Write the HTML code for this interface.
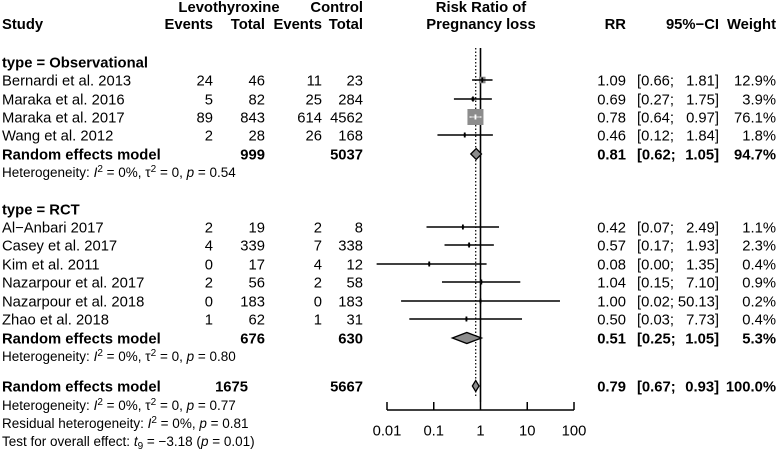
<!DOCTYPE html>
<html><head><meta charset="utf-8"><style>
html,body{margin:0;padding:0;background:#fff;}
svg{display:block;font-family:"Liberation Sans",Arial,sans-serif;}
.b{font-weight:bold}
.t{font-size:14.8px}
.s{font-size:13.5px}
</style></head><body>
<svg id="chart" width="778" height="454" viewBox="0 0 778 454" xmlns="http://www.w3.org/2000/svg">
<g class="b t">
<text x="2" y="29">Study</text>
<text x="229" y="12" text-anchor="middle">Levothyroxine</text>
<text x="213" y="29" text-anchor="end">Events</text>
<text x="265" y="29" text-anchor="end">Total</text>
<text x="363" y="12" text-anchor="end">Control</text>
<text x="322" y="29" text-anchor="end">Events</text>
<text x="363" y="29" text-anchor="end">Total</text>
<text x="481" y="12" text-anchor="middle">Risk Ratio of</text>
<text x="481" y="29" text-anchor="middle">Pregnancy loss</text>
<text x="626" y="29" text-anchor="end">RR</text>
<text x="719" y="29" text-anchor="end">95%−CI</text>
<text x="776" y="29" text-anchor="end">Weight</text>
</g>
<g id="rows"></g>
<g id="plot"></g>
</svg>
<script>
const studies = ["Bernardi et al. 2013","Maraka et al. 2016","Maraka et al. 2017","Wang et al. 2012","Al−Anbari 2017","Casey et al. 2017","Kim et al. 2011","Nazarpour et al. 2017","Nazarpour et al. 2018","Zhao et al. 2018"];
const levEvents = [24,5,89,2,2,4,0,2,0,1];
const levTotal = [46,82,843,28,19,339,17,56,183,62];
const ctrlEvents = [11,25,614,26,2,7,4,2,0,1];
const ctrlTotal = [23,284,4562,168,8,338,12,58,183,31];
const rr = [1.09,0.69,0.78,0.46,0.42,0.57,0.08,1.04,1.00,0.50];
const lower = [0.66,0.27,0.64,0.12,0.07,0.17,0.00,0.15,0.02,0.03];
const upper = [1.81,1.75,0.97,1.84,2.49,1.93,1.35,7.10,50.13,7.73];
const weights = [12.9,3.9,76.1,1.8,1.1,2.3,0.4,0.9,0.2,0.4];
const studyY = [80,99,117,135,227,245,264,282,301,319];
const pooledLabels = ["Random effects model","Random effects model","Random effects model"];
const pooledRR = [0.81,0.51,0.79];
const pooledLower = [0.62,0.25,0.67];
const pooledUpper = [1.05,1.05,0.93];
const pooledWeight = ["94.7%","5.3%","100.0%"];
const pooledLevTotal = [999,676,1675];
const pooledCtrlTotal = [5037,630,5667];
const pooledY = [154,338,386];
const ticks = [0.01,0.1,1,10,100];
const tickLabels = ["0.01","0.1","1","10","100"];

const NS="http://www.w3.org/2000/svg";
const rows=document.getElementById('rows'), plot=document.getElementById('plot');
const X0=387, X1=574;
function xs(v){ v=Math.max(v,0.006); return X0+(Math.log10(v)+2)/4*(X1-X0); }
function mk(tag,attrs,parent){const e=document.createElementNS(NS,tag);for(const k in attrs)e.setAttribute(k,attrs[k]);parent.appendChild(e);return e;}
function txt(x,y,s,anchor,cls,parent){const t=mk('text',{x:x,y:y+5.3,'text-anchor':anchor||'start','class':cls||'t'},parent);t.textContent=s;return t;}
function f2(v){return v.toFixed(2);}
function ci(lo,hi,y,cls,p){
  const a=txt(637,y,"["+f2(lo)+";",'start',cls,p);
  
  
  const b=txt(719,y,f2(hi)+"]",'end',cls,p);
  
  
}
let g=txt(2,62,"type = Observational",'start','b t',rows);


g=txt(2,209,"type = RCT",'start','b t',rows);



const yTop=48, yAxis=410;
let l=mk('line',{x1:xs(1),x2:xs(1),y1:yTop,y2:yAxis-8,stroke:'#000','stroke-width':1.6},plot);


l=mk('line',{x1:xs(pooledRR[2]),x2:xs(pooledRR[2]),y1:yTop,y2:yAxis-12,stroke:'#000','stroke-width':1.2,'stroke-dasharray':'1.5,2'},plot);



for(let i=0;i<studies.length;i++){
  const y=studyY[i];
  const r=mk('g',{},rows);
  
  
  txt(2,y,studies[i],'start','t',r);
  txt(213,y,String(levEvents[i]),'end','t',r);
  txt(265,y,String(levTotal[i]),'end','t',r);
  txt(322,y,String(ctrlEvents[i]),'end','t',r);
  txt(363,y,String(ctrlTotal[i]),'end','t',r);
  txt(626,y,f2(rr[i]),'end','t',r);
  ci(lower[i],upper[i],y,'t',r);
  txt(776,y,weights[i].toFixed(1)+"%",'end','t',r);
  const side=Math.max(2.5,16*Math.sqrt(weights[i]/76.1));
  const cx=xs(rr[i]);
  const sq=mk('rect',{x:cx-side/2,y:y-side/2,width:side,height:side,fill:'#8c8c8c'},plot);
  
  
  const ln=mk('line',{x1:xs(lower[i]),x2:xs(upper[i]),y1:y,y2:y,stroke:'#000','stroke-width':1.5},plot);
  
  
  if(side>8){
    const w=mk('line',{x1:cx-side/2+2,x2:cx+side/2-2,y1:y,y2:y,stroke:'#fff','stroke-width':1.2},plot);
    
    
  }
  const pt=mk('line',{x1:cx,x2:cx,y1:y-2.5,y2:y+2.5,stroke:side>8?'#fff':'#000','stroke-width':1.8},plot);
  
  
}
for(let i=0;i<pooledRR.length;i++){
  const y=pooledY[i];
  const r=mk('g',{},rows);
  
  
  txt(2,y,pooledLabels[i],'start','b t',r);
  txt(i==2?248:265,y,String(pooledLevTotal[i]),'end','b t',r);
  txt(363,y,String(pooledCtrlTotal[i]),'end','b t',r);
  txt(626,y,f2(pooledRR[i]),'end','b t',r);
  ci(pooledLower[i],pooledUpper[i],y,'b t',r);
  txt(776,y,pooledWeight[i],'end','b t',r);
  const a=xs(pooledLower[i]),m=xs(pooledRR[i]),b=xs(pooledUpper[i]);
  const d=mk('polygon',{points:`${a},${y} ${m},${y-5.5} ${b},${y} ${m},${y+5.5}`,fill:'#8c8c8c',stroke:'#000','stroke-width':1.3},plot);
  
  
}
function het(y,html,name){
  const t=mk('text',{x:2,y:y+5,'class':'s'},rows);
  t.innerHTML=html;
  
  
}
const I2='<tspan font-style="italic">I</tspan><tspan dy="-5" font-size="10">2</tspan><tspan dy="5"> = 0%, </tspan>';
const T2='τ<tspan dy="-5" font-size="10">2</tspan><tspan dy="5"> = 0, </tspan><tspan font-style="italic">p</tspan>';
het(172,'Heterogeneity: '+I2+T2+' = 0.54','heterogeneity-observational');
het(356,'Heterogeneity: '+I2+T2+' = 0.80','heterogeneity-rct');
het(405,'Heterogeneity: '+I2+T2+' = 0.77','heterogeneity-overall');
het(423,'Residual heterogeneity: '+I2+'<tspan font-style="italic">p</tspan> = 0.81','residual-heterogeneity');
het(441,'Test for overall effect: <tspan font-style="italic">t</tspan><tspan dy="3" font-size="10">9</tspan><tspan dy="-3"> = −3.18 (</tspan><tspan font-style="italic">p</tspan> = 0.01)','overall-effect-test');

l=mk('line',{x1:X0,x2:X1,y1:yAxis,y2:yAxis,stroke:'#000','stroke-width':1.5},plot);


for(let i=0;i<ticks.length;i++){
  const x=xs(ticks[i]);
  const tk=mk('line',{x1:x,x2:x,y1:yAxis-8,y2:yAxis,stroke:'#000','stroke-width':1.5},plot);
  
  
  const lb=txt(x,430,tickLabels[i],'middle','t',plot);
  
  
}
</script>
</body></html>
